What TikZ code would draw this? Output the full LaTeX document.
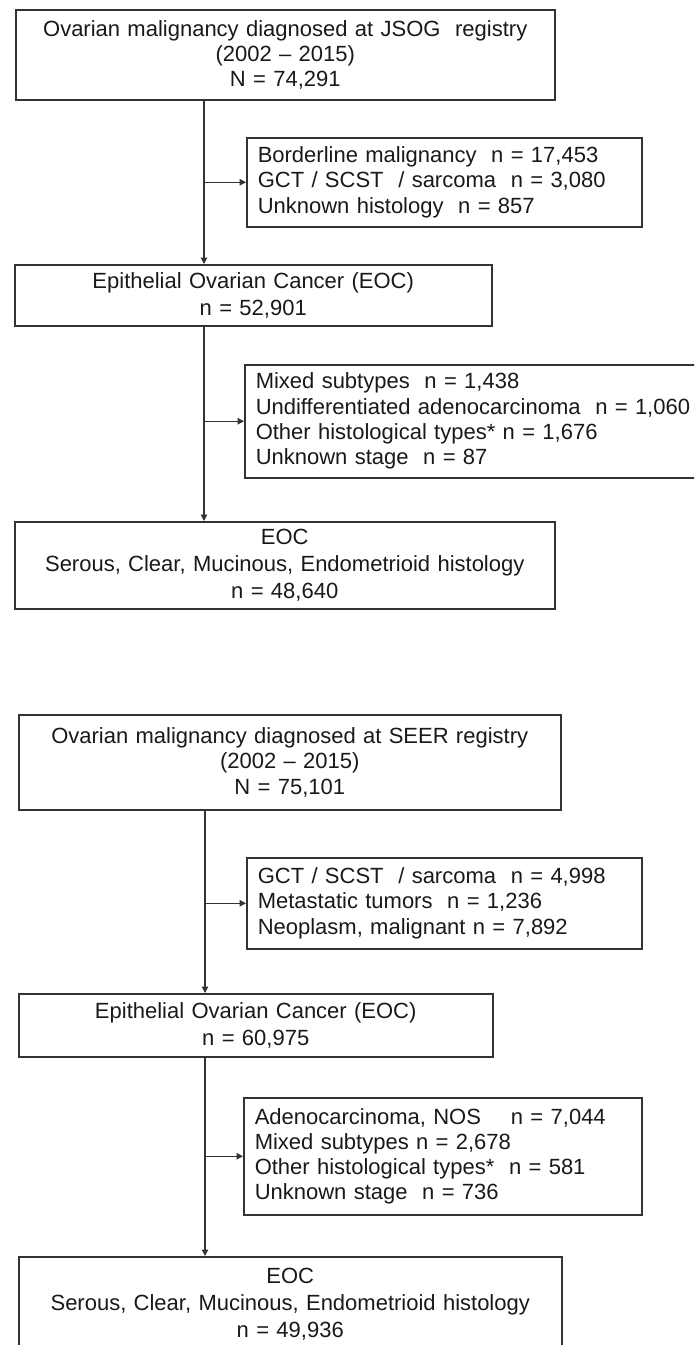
\documentclass[tikz,border=0pt]{standalone}
\usepackage{fontspec}
\setmainfont{Liberation Sans}
\usetikzlibrary{arrows.meta}
\begin{document}
\begin{tikzpicture}[x=1pt,y=-1pt,
  box/.style={draw=black!80, line width=1.5pt, inner ysep=0pt, inner xsep=11pt,
    anchor=north west, text=black!90, font=\fontsize{22}{25.3}\selectfont},
  tall/.style={font=\fontsize{22}{27}\selectfont},
  arr/.style={draw=black!80, line width=1.3pt, -{Triangle[length=6.5pt,width=6.5pt]}}]
\useasboundingbox (0,0) rectangle (694,1345);
\clip (0,0) rectangle (694,1345);
% ---------- JSOG ----------
\node[box, align=center, text width=517pt, minimum height=90pt] (b1) at (15,9)
  {Ovarian malignancy diagnosed at JSOG\ \ registry\\(2002 – 2015)\\N = 74,291};
\node[box, align=left, text width=373pt, minimum height=89pt] (b2) at (246,137)
  {Borderline malignancy\ \ n = 17,453\\GCT / SCST\ \ / sarcoma\ \ n = 3,080\\Unknown histology\ \ n = 857};
\node[box, tall, align=center, text width=455pt, minimum height=61pt] (b3) at (14,264)
  {Epithelial Ovarian Cancer (EOC)\\n = 52,901};
\node[box, align=left, text width=480pt, minimum height=113pt] (b4) at (244,364)
  {Mixed subtypes\ \ n = 1,438\\Undifferentiated adenocarcinoma\ \ n = 1,060\\Other histological types* n = 1,676\\Unknown stage\ \ n = 87};
\node[box, tall, align=center, text width=518pt, minimum height=87pt] (b5) at (14,521)
  {EOC\\Serous, Clear, Mucinous, Endometrioid histology\\n = 48,640};
\coordinate (v1) at (204,0);
\draw[arr] (b1.south -| v1) -- (b3.north -| v1);
\draw[arr] (b2.west -| v1) -- (b2.west);
\draw[arr] (b3.south -| v1) -- (b5.north -| v1);
\draw[arr] (b4.west -| v1) -- (b4.west);
% ---------- SEER ----------
\node[box, align=center, text width=520pt, minimum height=95pt] (b6) at (18,714)
  {Ovarian malignancy diagnosed at SEER registry\\(2002 – 2015)\\N = 75,101};
\node[box, align=left, text width=373pt, minimum height=91pt] (b7) at (246,857)
  {GCT / SCST\ \ / sarcoma\ \ n = 4,998\\Metastatic tumors\ \ n = 1,236\\Neoplasm, malignant n = 7,892};
\node[box, tall, align=center, text width=452pt, minimum height=63pt] (b8) at (18,993)
  {Epithelial Ovarian Cancer (EOC)\\n = 60,975};
\node[box, align=left, text width=376pt, minimum height=117pt] (b9) at (243,1097)
  {Adenocarcinoma, NOS\hspace{30pt}n = 7,044\\Mixed subtypes n = 2,678\\Other histological types*\ \ n = 581\\Unknown stage\ \ n = 736};
\node[box, tall, align=center, text width=521pt, minimum height=94pt] (b10) at (18,1256)
  {EOC\\Serous, Clear, Mucinous, Endometrioid histology\\n = 49,936};
\coordinate (v2) at (205,0);
\draw[arr] (b6.south -| v2) -- (b8.north -| v2);
\draw[arr] (b7.west -| v2) -- (b7.west);
\draw[arr] (b8.south -| v2) -- (b10.north -| v2);
\draw[arr] (b9.west -| v2) -- (b9.west);
\end{tikzpicture}
\end{document}
